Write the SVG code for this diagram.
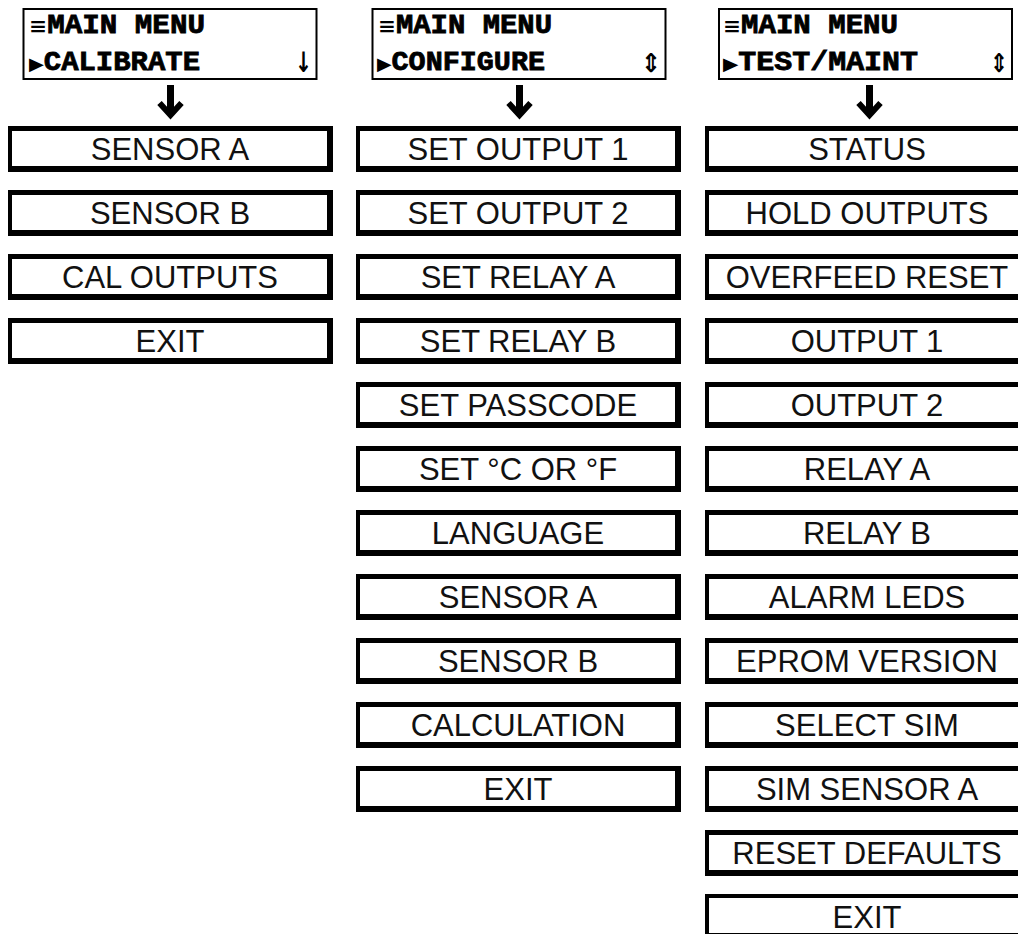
<svg xmlns="http://www.w3.org/2000/svg" width="1018" height="934" viewBox="0 0 1018 934">
<style>
.bg{fill:#fff}
.frame{fill:#000}
.inner{fill:#fff}
.lbl{font-family:"Liberation Sans",Arial,sans-serif;font-size:31px;text-anchor:middle;fill:#111}
.hdr{fill:#fff;stroke:#000;stroke-width:2}
.lcd{font-family:"Liberation Mono","DejaVu Sans Mono",monospace;font-weight:bold;font-size:27px;fill:#000;stroke:#000;stroke-width:0.8}
.sy{font-family:"DejaVu Sans",sans-serif;font-weight:bold;stroke-width:0}
.sym{font-family:"DejaVu Sans",sans-serif;font-weight:bold;fill:#000}
.conn{stroke:#000;stroke-width:7;fill:none}
</style>
<defs>
<marker id="ah" markerUnits="userSpaceOnUse" markerWidth="22" markerHeight="28" refX="15" refY="14" orient="auto" viewBox="0 0 22 28">
<path d="M4,3 L16,14 L4,25" fill="none" stroke="#000" stroke-width="6"/>
</marker>
</defs>
<rect class="bg" x="0" y="0" width="1018" height="934"/>

<!-- Headers -->
<g id="hdr-calibrate">
<rect class="hdr" x="23.5" y="9" width="293" height="70"/>
<text class="lcd" x="29" y="33" textLength="176" lengthAdjust="spacingAndGlyphs"><tspan class="sy" font-size="20">≡</tspan>MAIN MENU</text>
<text class="lcd" x="29" y="70" textLength="171" lengthAdjust="spacingAndGlyphs"><tspan class="sy" font-size="18">▶</tspan>CALIBRATE</text>
<text class="sym" x="295" y="72" font-size="28" textLength="17" lengthAdjust="spacingAndGlyphs">↓</text>
</g>
<g id="hdr-configure">
<rect class="hdr" x="372.5" y="9" width="293" height="70"/>
<text class="lcd" x="378" y="33" textLength="174" lengthAdjust="spacingAndGlyphs"><tspan class="sy" font-size="20">≡</tspan>MAIN MENU</text>
<text class="lcd" x="377" y="70" textLength="168" lengthAdjust="spacingAndGlyphs"><tspan class="sy" font-size="18">▶</tspan>CONFIGURE</text>
<text class="sym" x="641" y="72" font-size="26" textLength="20" lengthAdjust="spacingAndGlyphs">⇕</text>
</g>
<g id="hdr-testmaint">
<rect class="hdr" x="719" y="9" width="293" height="70"/>
<text class="lcd" x="723" y="33" textLength="175" lengthAdjust="spacingAndGlyphs"><tspan class="sy" font-size="20">≡</tspan>MAIN MENU</text>
<text class="lcd" x="723" y="70" textLength="195" lengthAdjust="spacingAndGlyphs"><tspan class="sy" font-size="18">▶</tspan>TEST/MAINT</text>
<text class="sym" x="990" y="72" font-size="26" textLength="18" lengthAdjust="spacingAndGlyphs">⇕</text>
</g>

<!-- Connectors -->
<g id="connectors">
<path class="conn" d="M170.5,85 V114" marker-end="url(#ah)"/>
<path class="conn" d="M519.5,85 V114" marker-end="url(#ah)"/>
<path class="conn" d="M869.5,85 V114" marker-end="url(#ah)"/>
</g>

<!-- Column 1 -->
<g id="cal-sensor-a"><rect class="frame" x="8" y="126" width="325" height="46"/><rect class="inner" x="12" y="131" width="315" height="35"/><text class="lbl" x="170" y="160">SENSOR A</text></g>
<g id="cal-sensor-b"><rect class="frame" x="8" y="190" width="325" height="46"/><rect class="inner" x="12" y="195" width="315" height="35"/><text class="lbl" x="170" y="224">SENSOR B</text></g>
<g id="cal-outputs"><rect class="frame" x="8" y="254" width="325" height="46"/><rect class="inner" x="12" y="259" width="315" height="35"/><text class="lbl" x="170" y="288">CAL OUTPUTS</text></g>
<g id="cal-exit"><rect class="frame" x="8" y="318" width="325" height="46"/><rect class="inner" x="12" y="323" width="315" height="35"/><text class="lbl" x="170" y="352">EXIT</text></g>

<!-- Column 2 -->
<g id="cfg-out1"><rect class="frame" x="356" y="126" width="325" height="46"/><rect class="inner" x="360" y="131" width="315" height="35"/><text class="lbl" x="518" y="160">SET OUTPUT 1</text></g>
<g id="cfg-out2"><rect class="frame" x="356" y="190" width="325" height="46"/><rect class="inner" x="360" y="195" width="315" height="35"/><text class="lbl" x="518" y="224">SET OUTPUT 2</text></g>
<g id="cfg-relay-a"><rect class="frame" x="356" y="254" width="325" height="46"/><rect class="inner" x="360" y="259" width="315" height="35"/><text class="lbl" x="518" y="288">SET RELAY A</text></g>
<g id="cfg-relay-b"><rect class="frame" x="356" y="318" width="325" height="46"/><rect class="inner" x="360" y="323" width="315" height="35"/><text class="lbl" x="518" y="352">SET RELAY B</text></g>
<g id="cfg-passcode"><rect class="frame" x="356" y="382" width="325" height="46"/><rect class="inner" x="360" y="387" width="315" height="35"/><text class="lbl" x="518" y="416">SET PASSCODE</text></g>
<g id="cfg-units"><rect class="frame" x="356" y="446" width="325" height="46"/><rect class="inner" x="360" y="451" width="315" height="35"/><text class="lbl" x="518" y="480">SET °C OR °F</text></g>
<g id="cfg-language"><rect class="frame" x="356" y="510" width="325" height="46"/><rect class="inner" x="360" y="515" width="315" height="35"/><text class="lbl" x="518" y="544">LANGUAGE</text></g>
<g id="cfg-sensor-a"><rect class="frame" x="356" y="574" width="325" height="46"/><rect class="inner" x="360" y="579" width="315" height="35"/><text class="lbl" x="518" y="608">SENSOR A</text></g>
<g id="cfg-sensor-b"><rect class="frame" x="356" y="638" width="325" height="46"/><rect class="inner" x="360" y="643" width="315" height="35"/><text class="lbl" x="518" y="672">SENSOR B</text></g>
<g id="cfg-calculation"><rect class="frame" x="356" y="702" width="325" height="46"/><rect class="inner" x="360" y="707" width="315" height="35"/><text class="lbl" x="518" y="736">CALCULATION</text></g>
<g id="cfg-exit"><rect class="frame" x="356" y="766" width="325" height="46"/><rect class="inner" x="360" y="771" width="315" height="35"/><text class="lbl" x="518" y="800">EXIT</text></g>

<!-- Column 3 -->
<g id="tm-status"><rect class="frame" x="705" y="126" width="325" height="46"/><rect class="inner" x="709" y="131" width="315" height="35"/><text class="lbl" x="867" y="160">STATUS</text></g>
<g id="tm-hold"><rect class="frame" x="705" y="190" width="325" height="46"/><rect class="inner" x="709" y="195" width="315" height="35"/><text class="lbl" x="867" y="224">HOLD OUTPUTS</text></g>
<g id="tm-overfeed"><rect class="frame" x="705" y="254" width="325" height="46"/><rect class="inner" x="709" y="259" width="315" height="35"/><text class="lbl" x="867" y="288">OVERFEED RESET</text></g>
<g id="tm-out1"><rect class="frame" x="705" y="318" width="325" height="46"/><rect class="inner" x="709" y="323" width="315" height="35"/><text class="lbl" x="867" y="352">OUTPUT 1</text></g>
<g id="tm-out2"><rect class="frame" x="705" y="382" width="325" height="46"/><rect class="inner" x="709" y="387" width="315" height="35"/><text class="lbl" x="867" y="416">OUTPUT 2</text></g>
<g id="tm-relay-a"><rect class="frame" x="705" y="446" width="325" height="46"/><rect class="inner" x="709" y="451" width="315" height="35"/><text class="lbl" x="867" y="480">RELAY A</text></g>
<g id="tm-relay-b"><rect class="frame" x="705" y="510" width="325" height="46"/><rect class="inner" x="709" y="515" width="315" height="35"/><text class="lbl" x="867" y="544">RELAY B</text></g>
<g id="tm-alarm"><rect class="frame" x="705" y="574" width="325" height="46"/><rect class="inner" x="709" y="579" width="315" height="35"/><text class="lbl" x="867" y="608">ALARM LEDS</text></g>
<g id="tm-eprom"><rect class="frame" x="705" y="638" width="325" height="46"/><rect class="inner" x="709" y="643" width="315" height="35"/><text class="lbl" x="867" y="672">EPROM VERSION</text></g>
<g id="tm-select-sim"><rect class="frame" x="705" y="702" width="325" height="46"/><rect class="inner" x="709" y="707" width="315" height="35"/><text class="lbl" x="867" y="736">SELECT SIM</text></g>
<g id="tm-sim-sensor-a"><rect class="frame" x="705" y="766" width="325" height="46"/><rect class="inner" x="709" y="771" width="315" height="35"/><text class="lbl" x="867" y="800">SIM SENSOR A</text></g>
<g id="tm-reset"><rect class="frame" x="705" y="830" width="325" height="46"/><rect class="inner" x="709" y="835" width="315" height="35"/><text class="lbl" x="867" y="864">RESET DEFAULTS</text></g>
<g id="tm-exit"><rect class="frame" x="705" y="894" width="325" height="46"/><rect class="inner" x="709" y="898" width="315" height="35"/><text class="lbl" x="867" y="928">EXIT</text></g>
</svg>
